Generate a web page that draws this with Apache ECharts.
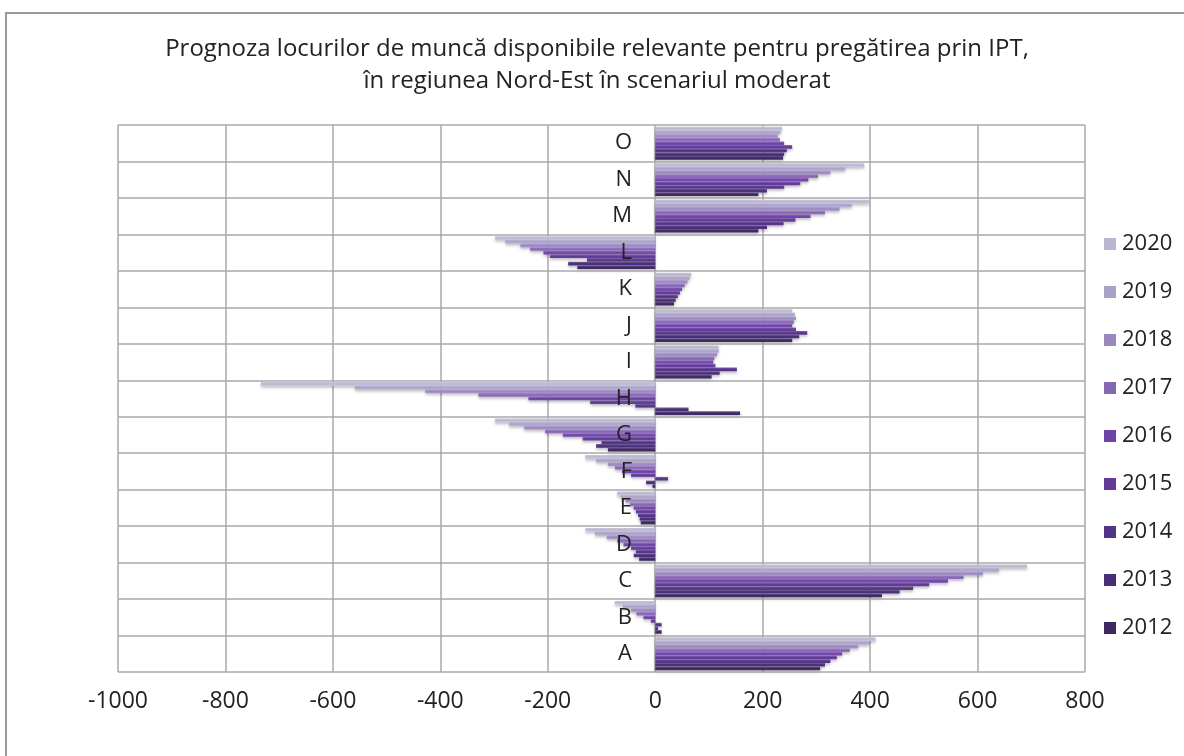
<!DOCTYPE html>
<html>
<head>
<meta charset="utf-8">
<script src="https://cdn.jsdelivr.net/npm/echarts@6/dist/echarts.min.js"></script>
<style>
html,body{margin:0;padding:0;background:#fff;}
#frame{position:absolute;left:5px;top:12px;width:1300px;height:900px;border-top:2px solid #9a9a9a;border-left:2px solid #9a9a9a;}
#chart{position:absolute;left:0;top:0;width:1184px;height:756px;}
</style>
</head>
<body>
<div id="frame"></div>
<div id="chart"></div>
<script>
const categories = ['A','B','C','D','E','F','G','H','I','J','K','L','M','N','O'];
const years = ['2012','2013','2014','2015','2016','2017','2018','2019','2020'];
// values per year, categories A..O
const v2012 = [307, 12, 422, -30, -27, -5, -88, 158, 105, 255, 35, -145, 192, 192, 238];
const v2013 = [316, 5, 455, -40, -29, -17, -110, 62, 120, 268, 38, -162, 208, 208, 240];
const v2014 = [326, 12, 480, -36, -32, 24, -100, -37, 152, 283, 42, -127, 239, 240, 245];
const v2015 = [338, -8, 510, -45, -36, -45, -135, -121, 112, 262, 46, -196, 261, 270, 255];
const v2016 = [348, -22, 545, -59, -40, -62, -172, -236, 108, 255, 50, -208, 289, 285, 240];
const v2017 = [362, -35, 574, -71, -47, -75, -205, -329, 110, 258, 55, -233, 316, 303, 232];
const v2018 = [378, -45, 610, -90, -55, -88, -244, -428, 115, 262, 60, -251, 343, 326, 228];
const v2019 = [398, -60, 640, -112, -64, -110, -272, -559, 118, 260, 64, -279, 366, 354, 233];
const v2020 = [410, -75, 692, -130, -71, -130, -298, -734, 118, 255, 67, -298, 398, 389, 236];
const seriesValues = [v2012, v2013, v2014, v2015, v2016, v2017, v2018, v2019, v2020];
const colors = ['#3d2862','#482e76','#543486','#603a96','#6e45a6','#8667b3','#9a88be','#aaa1c7','#bab6cf'];
const xTicks = {min: -1000, max: 800, interval: 200};

const chart = echarts.init(document.getElementById('chart'), null, {renderer: 'canvas'});
// ECharts puts the first series at the top of each band, so 2020 goes first
const order = years.map((y, i) => i).reverse();
const series = order.map(i => ({
  name: years[i],
  type: 'bar',
  data: seriesValues[i],
  barGap: '0%',
  barCategoryGap: '10%',
  itemStyle: {
    color: new echarts.graphic.LinearGradient(0, 0, 0, 1, [
      {offset: 0, color: echarts.color.lift(colors[i], 0.25)},
      {offset: 0.5, color: colors[i]},
      {offset: 1, color: echarts.color.lift(colors[i], -0.1)}
    ]),
    shadowColor: 'rgba(0,0,0,0.25)',
    shadowBlur: 3,
    shadowOffsetY: 2
  },
  emphasis: {disabled: true}
}));

chart.setOption({
  animation: false,
  backgroundColor: 'transparent',
  title: {
    text: 'Prognoza locurilor de muncă disponibile relevante pentru pregătirea prin IPT,\nîn regiunea Nord-Est în scenariul moderat',
    left: 592,
    top: 28,
    textAlign: 'center',
    textStyle: {fontFamily: 'Open Sans', fontSize: 24, fontWeight: 'normal', color: '#222', lineHeight: 32, align: 'center'}
  },
  legend: {
    data: order.map(i => ({name: years[i], itemStyle: {color: colors[i]}})),
    orient: 'vertical',
    left: 1099,
    top: 228,
    itemGap: 26,
    itemWidth: 12,
    itemHeight: 12,
    icon: 'rect',
    textStyle: {fontFamily: 'Open Sans', fontSize: 22, color: '#222', padding: [0,0,0,1]}
  },
  grid: {left: 118, right: 99, top: 125, bottom: 84, containLabel: false},
  xAxis: {
    type: 'value',
    min: xTicks.min, max: xTicks.max, interval: xTicks.interval,
    axisLine: {show: false},
    axisTick: {show: false},
    axisLabel: {fontFamily: 'Open Sans', fontSize: 23, color: '#222', margin: 18, formatter: v => String(v)},
    splitLine: {show: true, lineStyle: {color: '#a8a8a8', width: 1.5}}
  },
  yAxis: {
    type: 'category',
    data: categories,
    axisLine: {show: false},
    axisTick: {show: false},
    axisLabel: {fontFamily: 'Open Sans', fontSize: 22, color: '#222', margin: -514},
    splitLine: {show: true, lineStyle: {color: '#a8a8a8', width: 1.5}},
    z: 5
  },
  series: series
});
</script>
</body>
</html>
